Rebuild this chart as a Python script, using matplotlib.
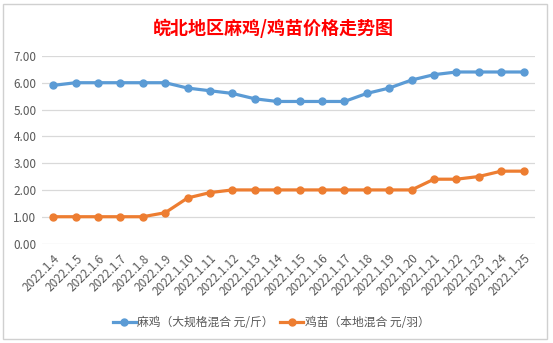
import numpy as np
import matplotlib.pyplot as plt
from matplotlib.patches import Rectangle

plt.rcParams['font.family'] = ['Noto Sans CJK SC', 'DejaVu Sans']

dates = ['2022.1.4', '2022.1.5', '2022.1.6', '2022.1.7', '2022.1.8', '2022.1.9',
         '2022.1.10', '2022.1.11', '2022.1.12', '2022.1.13', '2022.1.14', '2022.1.15',
         '2022.1.16', '2022.1.17', '2022.1.18', '2022.1.19', '2022.1.20', '2022.1.21',
         '2022.1.22', '2022.1.23', '2022.1.24', '2022.1.25']
maji = [5.9, 6.0, 6.0, 6.0, 6.0, 6.0, 5.8, 5.7, 5.6, 5.4, 5.3, 5.3,
        5.3, 5.3, 5.6, 5.8, 6.1, 6.3, 6.4, 6.4, 6.4, 6.4]
jimiao = [1.0, 1.0, 1.0, 1.0, 1.0, 1.15, 1.7, 1.9, 2.0, 2.0, 2.0, 2.0,
          2.0, 2.0, 2.0, 2.0, 2.0, 2.4, 2.4, 2.5, 2.7, 2.7]
yticks = [0, 1, 2, 3, 4, 5, 6, 7]

fig = plt.figure(figsize=(5.53, 3.43), dpi=100)
fig.patches.append(Rectangle((0.006, 0.012), 0.984, 0.976, transform=fig.transFigure,
                             fill=False, edgecolor='#d0d0d0', linewidth=1))

ax = fig.add_axes([0.076, 0.29, 0.891, 0.547])
x = np.arange(len(dates))
ax.plot(x, maji, color='#5B9BD5', linewidth=2.3, marker='o', markersize=5,
        label='麻鸡（大规格混合 元/斤）', zorder=3)
ax.plot(x, jimiao, color='#ED7D31', linewidth=2.3, marker='o', markersize=5,
        label='鸡苗（本地混合 元/羽）', zorder=3)

ax.set_xlim(-0.5, len(dates) - 0.5)
ax.set_ylim(0, 7)
ax.set_yticks(yticks)
ax.set_yticklabels(['%.2f' % v for v in yticks])
ax.set_xticks(x)
ax.set_xticklabels(dates, rotation=45, ha='right', rotation_mode='anchor')
ax.tick_params(axis='both', length=0, labelsize=8.5, labelcolor='#595959', pad=4)
ax.tick_params(axis='x', pad=6)
ax.grid(axis='y', color='#d9d9d9', linewidth=0.9)
ax.set_axisbelow(True)
for s in ax.spines.values():
    s.set_visible(False)

fig.text(0.495, 0.918, '皖北地区麻鸡/鸡苗价格走势图', color='#FF0000', fontsize=13,
         fontweight='bold', ha='center', va='center')

fig.legend(loc='center', bbox_to_anchor=(0.49, 0.06), ncol=2, frameon=False,
           fontsize=8.5, labelcolor='#595959', handlelength=2.0, columnspacing=0.5,
           handletextpad=0.1)

plt.savefig('out.png', dpi=100)
